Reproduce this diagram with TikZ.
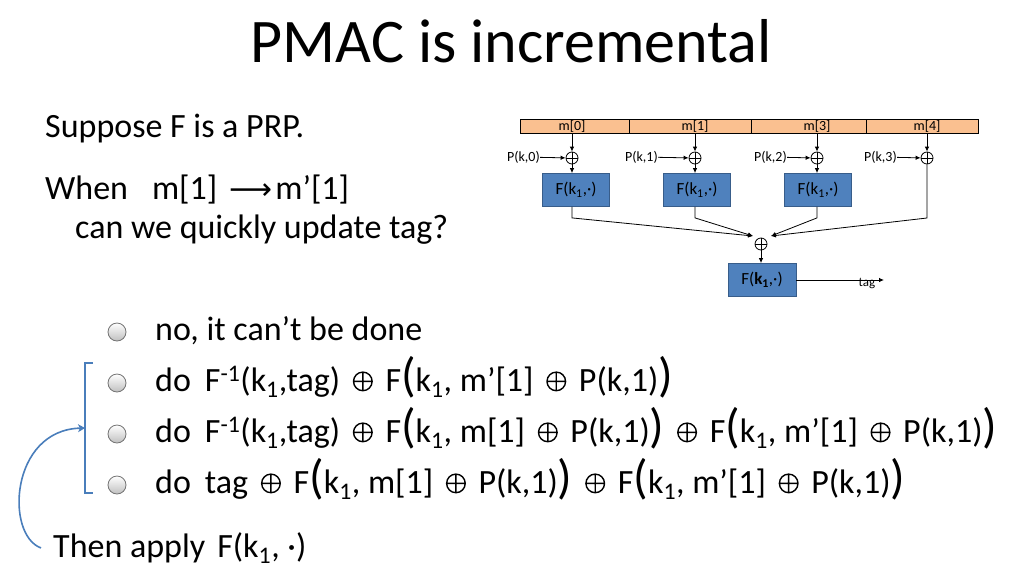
\documentclass[tikz,border=0pt]{standalone}
\usepackage{fontspec}
\setmainfont{Carlito}
\newfontfamily\symfont{DejaVu Sans}
\usepackage{xcolor}
\usepackage{tikz}
\usetikzlibrary{arrows.meta}
\definecolor{barfill}{HTML}{FAC090}
\definecolor{boxfill}{HTML}{4F81BD}
\definecolor{boxline}{HTML}{385D8A}
\definecolor{hookblue}{HTML}{4A7EBB}
\newcommand\lo[1]{\textsubscript{#1}}
\newcommand\hi[1]{\textsuperscript{#1}}
\newcommand\bigpar[1]{{\fontsize{48}{48}\selectfont #1}}
\newcommand\xr{\hspace{5pt}\tikz[baseline=0pt] \draw[line width=1.4pt] (10pt,9.6pt) circle (9.3pt)
  (0.7pt,9.6pt) -- (19.3pt,9.6pt) (10pt,0.3pt) -- (10pt,18.9pt);\hspace{5pt}}
\newcommand\goesto{{\symfont\fontsize{30}{30}\selectfont ⟶}}
\tikzset{xo/.style = {circle, draw, line width=0.8pt, minimum size=12pt,
  path picture={\draw[line width=0.8pt] (path picture bounding box.north) -- (path picture bounding box.south)
    (path picture bounding box.west) -- (path picture bounding box.east);}}}

\begin{document}
\begin{tikzpicture}[x=1pt,y=-1pt,every node/.style={inner sep=0pt},
  cell/.style={draw, fill=barfill, line width=0.6pt, minimum height=14pt},
  lbl/.style={font=\fontsize{14}{14}\selectfont},
  fbox/.style={draw=boxline, fill=boxfill, line width=0.8pt, minimum width=67pt, minimum height=33pt, font=\fontsize{17}{17}\selectfont},
  flow/.style={-{Latex[length=5pt,width=4.5pt]}, line width=0.8pt},
  radio/.style={circle, draw=black!55, line width=0.8pt, top color=white, bottom color=black!25, minimum size=18pt},
  txt/.style={anchor=base west, font=\fontsize{34}{34}\selectfont}]
  \useasboundingbox (0,0) rectangle (1024,576);
  \node[anchor=base, font=\fontsize{62}{62}\selectfont] (title) at (511,62) {PMAC is incremental};
  \node[txt] (prp) at (45,137) {Suppose F is a PRP.};
  \node[txt] (when) at (45,199) {When\hspace{24pt}m[1]\hspace{12pt}\goesto\hspace{3pt}m’[1]};
  \node[txt] (quick) at (75,238) {can we quickly update tag?};

  \node[cell, minimum width=109pt] (c0) at (574.5,126) {};
  \node[cell, minimum width=122pt] (c1) at (690,126) {};
  \node[cell, minimum width=115pt] (c2) at (808.5,126) {};
  \node[cell, minimum width=112pt] (c3) at (922,126) {};
  \node[lbl] (m0) at (572,126) {m[0]};
  \node[lbl] (m1) at (695,126) {m[1]};
  \node[lbl] (m2) at (817,126) {m[3]};
  \node[lbl] (m3) at (927,126) {m[4]};
  \node[xo] (x0) at (572,158) {};
  \node[xo] (x1) at (695,158) {};
  \node[xo] (x2) at (817,158) {};
  \node[xo] (x3) at (927,158) {};
  \node[lbl, anchor=east] (p0) at (540,157) {P(k,0)};
  \node[lbl, anchor=east] (p1) at (658,157) {P(k,1)};
  \node[lbl, anchor=east] (p2) at (787,157) {P(k,2)};
  \node[lbl, anchor=east] (p3) at (897,157) {P(k,3)};
  \node[fbox] (f0) at (576,190) {F(k\lo{1},·)};
  \node[fbox] (f1) at (697,190) {F(k\lo{1},·)};
  \node[fbox] (f2) at (818,190) {F(k\lo{1},·)};
  \node[xo] (fx) at (761,244) {};
  \node[fbox, minimum width=68pt] (fb) at (762,280) {F(\textbf{k\lo{1}},·)};
  \node[lbl, font=\fontsize{13}{13}\selectfont] (tag) at (867,284) {tag};
  \coordinate (inL) at (753,236);
  \coordinate (inR) at (771,236);
  \coordinate (tagend) at (884,280);

  \draw[flow] (m0.south |- c0.south) -- (x0);
  \draw[flow] (m1.south |- c1.south) -- (x1);
  \draw[flow] (m2.south |- c2.south) -- (x2);
  \draw[flow] (m3.south |- c3.south) -- (x3);
  \draw[flow] (p0) -- (x0);
  \draw[flow] (p1) -- (x1);
  \draw[flow] (p2) -- (x2);
  \draw[flow] (p3) -- (x3);
  \draw[flow] (x0) -- (x0 |- f0.north);
  \draw[flow] (x1) -- (x1 |- f1.north);
  \draw[flow] (x2) -- (x2 |- f2.north);
  \draw[flow] (x0 |- f0.south) -- ++(0,11) -- (inL);
  \draw[flow] (x1 |- f1.south) -- ++(0,11) -- (inL);
  \draw[flow] (x2 |- f2.south) -- ++(0,11) -- (inR);
  \draw[flow] (x3) -- (927,218) -- (inR);
  \draw[flow] (fx) -- (fx |- fb.north);
  \draw[flow] (fb) -- (tagend);

  \node[radio] (r1) at (117,332) {};
  \node[radio] (r2) at (117,383) {};
  \node[radio] (r3) at (117,434) {};
  \node[radio] (r4) at (117,485) {};
  \node[txt] (o1) at (155,340) {no, it can’t be done};
  \node[txt] (o2) at (155,391) {do\hspace{14pt}F\hi{-1}(k\lo{1},tag) \xr{} F\bigpar{(}k\lo{1}, m’[1] \xr{} P(k,1)\bigpar{)}};
  \node[txt] (o3) at (155,442) {do\hspace{14pt}F\hi{-1}(k\lo{1},tag) \xr{} F\bigpar{(}k\lo{1}, m[1] \xr{} P(k,1)\bigpar{)} \xr{} F\bigpar{(}k\lo{1}, m’[1] \xr{} P(k,1)\bigpar{)}};
  \node[txt] (o4) at (155,493) {do\hspace{14pt}tag \xr{} F\bigpar{(}k\lo{1}, m[1] \xr{} P(k,1)\bigpar{)} \xr{} F\bigpar{(}k\lo{1}, m’[1] \xr{} P(k,1)\bigpar{)}};
  \node[txt] (then) at (53,557) {Then apply\hspace{12pt}F(k\lo{1}, ·)};

  \coordinate (brTop) at (93,363);
  \coordinate (brBot) at (93,493);
  \coordinate (brMid) at (85,428);
  \draw[hookblue, line width=2pt] (brTop) -- (85,363) -- (85,493) -- (brBot);
  \draw[hookblue, line width=1.6pt, -{Stealth[length=7pt,width=8pt,inset=2pt]}] ([xshift=-12pt]then.west) .. controls (5,535) and (10,430) .. (brMid);
\end{tikzpicture}
\end{document}
